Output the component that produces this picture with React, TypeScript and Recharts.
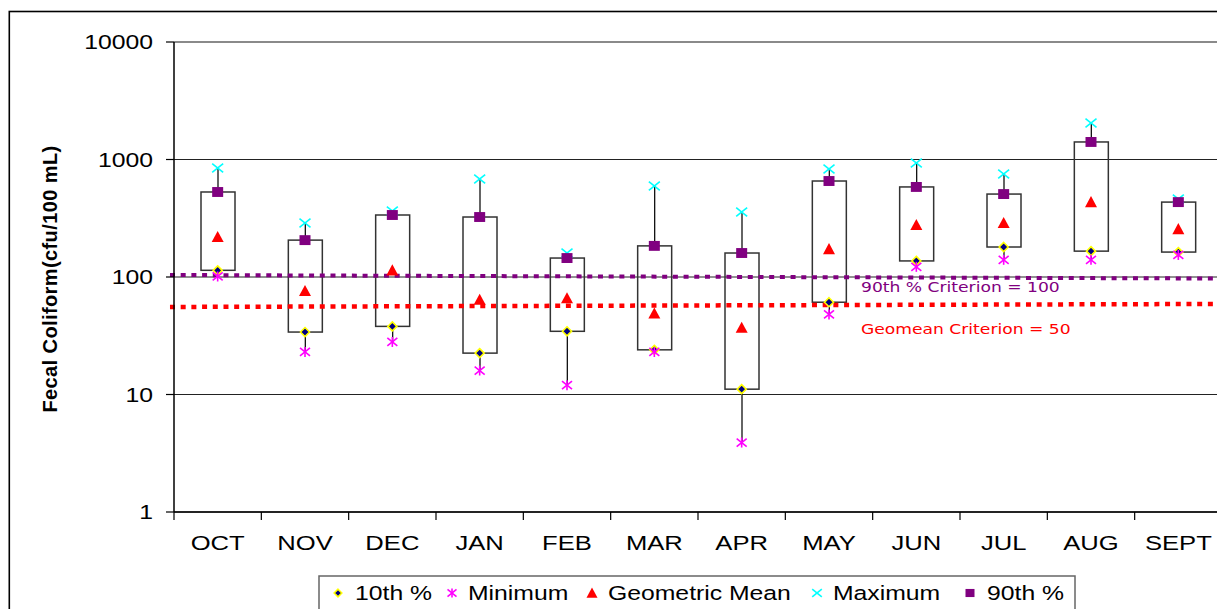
import React from 'react';
import { ComposedChart, Bar, Scatter, XAxis, YAxis, CartesianGrid, ReferenceLine } from 'recharts';

const months = ['OCT', 'NOV', 'DEC', 'JAN', 'FEB', 'MAR', 'APR', 'MAY', 'JUN', 'JUL', 'AUG', 'SEPT'];
const p10 = [114, 34, 38, 22.5, 34.5, 24, 11.1, 61, 137, 180, 166, 163];
const minimum = [101, 23, 28, 16, 12, 23, 3.9, 48, 122, 140, 140, 154];
const geoMean = [219, 76, 114, 64, 66, 49, 37, 173, 277, 288, 434, 256];
const maximum = [847, 288, 365, 682, 160, 595, 357, 830, 934, 753, 2042, 461];
const p90 = [529, 206, 337, 324, 145, 184, 160, 656, 584, 508, 1410, 434];

const yTicks = [1, 10, 100, 1000, 10000];
const criterion90 = { label: '90th % Criterion = 100', start: 104, end: 97 };
const criterionGeo = { label: 'Geomean Criterion = 50', start: 55.6, end: 59 };
const legendItems = ['10th %', 'Minimum', 'Geometric Mean', 'Maximum', '90th %'];

const data = months.map((m, i) => ({
  month: m,
  pos: i + 0.5,
  p10: p10[i],
  min: minimum[i],
  gm: geoMean[i],
  max: maximum[i],
  p90: p90[i],
}));
const boundaries = months.map((_, i) => i).concat([months.length]);

const PURPLE = '#800080';
const RED = '#FF0000';
const CYAN = '#00FFFF';
const MAGENTA = '#FF00FF';
const NAVY = '#000080';
const YELLOW = '#FFFF00';
const FONT = "'Liberation Sans', Arial, sans-serif";

const Diamond = ({ cx, cy, s = 4.5 }: any) => (
  <polygon
    points={`${cx},${cy - s} ${cx + s},${cy} ${cx},${cy + s} ${cx - s},${cy}`}
    fill={NAVY}
    stroke={YELLOW}
    strokeWidth={1.6}
  />
);
const Star = ({ cx, cy, s = 5 }: any) => (
  <g stroke={MAGENTA} strokeWidth={1.6}>
    <line x1={cx - s} y1={cy - s * 0.8} x2={cx + s} y2={cy + s * 0.8} />
    <line x1={cx - s} y1={cy + s * 0.8} x2={cx + s} y2={cy - s * 0.8} />
    <line x1={cx} y1={cy - s} x2={cx} y2={cy + s} />
  </g>
);
const Triangle = ({ cx, cy, s = 6 }: any) => (
  <polygon points={`${cx},${cy - s} ${cx + s},${cy + s * 0.85} ${cx - s},${cy + s * 0.85}`} fill={RED} />
);
const Cross = ({ cx, cy, s = 5.5 }: any) => (
  <g stroke={CYAN} strokeWidth={1.6}>
    <line x1={cx - s} y1={cy - s * 0.8} x2={cx + s} y2={cy + s * 0.8} />
    <line x1={cx - s} y1={cy + s * 0.8} x2={cx + s} y2={cy - s * 0.8} />
  </g>
);
const Square = ({ cx, cy, s = 5.5 }: any) => (
  <rect x={cx - s} y={cy - s * 0.9} width={s * 2} height={s * 1.8} fill={PURPLE} />
);

const BoxShape = (props: any) => {
  const { x, y, width, height, payload } = props;
  if (!payload) return null;
  const hi = Math.log10(payload.max);
  const lo = Math.log10(payload.min);
  const toY = (v: number) => y + (height * (hi - Math.log10(v))) / (hi - lo);
  const cx = x + width / 2;
  const y90 = toY(payload.p90);
  const y10 = toY(payload.p10);
  return (
    <g>
      <line x1={cx} x2={cx} y1={y} y2={y90} stroke="#111" strokeWidth={1.3} />
      <line x1={cx} x2={cx} y1={y10} y2={y + height} stroke="#111" strokeWidth={1.3} />
      <rect x={x} y={y90} width={width} height={y10 - y90} fill="none" stroke="#333" strokeWidth={1.5} />
    </g>
  );
};

const YTick = (props: any) => {
  const { x, y, payload } = props;
  return (
    <text
      transform={`translate(${x},${y + 7}) scale(1.27,1)`}
      textAnchor="end"
      fontFamily={FONT}
      fontSize={19.5}
      fill="#000"
    >
      {payload.value}
    </text>
  );
};

const XTick = (props: any) => {
  const { x, y, payload, index } = props;
  const half = payload && payload.offset ? payload.offset : 0;
  return (
    <g>
      {half > 0 && (
        <line x1={x - half} x2={x - half} y1={y} y2={y + 8} stroke="#000" strokeWidth={1.2} />
      )}
      {half > 0 && index === months.length - 1 && (
        <line x1={x + half} x2={x + half} y1={y} y2={y + 8} stroke="#000" strokeWidth={1.2} />
      )}
      <text
        transform={`translate(${x},${y + 38}) scale(1.22,1)`}
        textAnchor="middle"
        fontFamily={FONT}
        fontSize={21}
        fill="#000"
      >
        {payload.value}
      </text>
    </g>
  );
};

const legendX = [330, 444, 584, 809, 962];
const legendTextX = [347, 460, 600, 825, 979];
const legendMarkers = [
  (cx: number, cy: number) => <Diamond cx={cx} cy={cy} s={3.8} />,
  (cx: number, cy: number) => <Star cx={cx} cy={cy} s={4.5} />,
  (cx: number, cy: number) => <Triangle cx={cx} cy={cy} s={5.5} />,
  (cx: number, cy: number) => <Cross cx={cx} cy={cy} s={4.8} />,
  (cx: number, cy: number) => <Square cx={cx} cy={cy} s={4.5} />,
];

export default function App() {
  return (
    <div style={{ position: 'relative', width: 1217, height: 601, overflow: 'hidden', background: '#fff' }}>
      <ComposedChart
        width={1217}
        height={601}
        data={data}
        margin={{ top: 34, right: 3, bottom: 37, left: 0 }}
      >
        <CartesianGrid vertical={false} stroke="#222" strokeWidth={1} />
        <XAxis
          xAxisId="num"
          dataKey="pos"
          type="number"
          scale="linear"
          domain={[0, months.length]}
          hide
          allowDataOverflow
        />
        <XAxis
          dataKey="month"
          height={60}
          tickLine={false}
          tickSize={0}
          tickMargin={0}
          axisLine={{ stroke: '#000', strokeWidth: 1.5 }}
          tick={<XTick />}
          interval={0}
        />
        <YAxis
          scale="log"
          domain={[1, 10000]}
          ticks={yTicks}
          allowDataOverflow
          width={166}
          tickSize={8}
          tickMargin={13}
          axisLine={{ stroke: '#000', strokeWidth: 1.5 }}
          tickLine={{ stroke: '#000', strokeWidth: 1.2 }}
          tick={<YTick />}
          interval={0}
        />
        <ReferenceLine y={10000} stroke="#888" strokeWidth={1.6} ifOverflow="visible" />
        <ReferenceLine x={months.length} xAxisId="num" stroke="#888" strokeWidth={1.6} ifOverflow="visible" />
        <Bar
          dataKey={(d: any) => [d.min, d.max]}
          barSize={34}
          shape={<BoxShape />}
          isAnimationActive={false}
        />
        <ReferenceLine
          xAxisId="num"
          segment={[{ x: -0.046, y: criterion90.start }, { x: 12.04, y: criterion90.end }]}
          stroke={PURPLE}
          strokeWidth={4}
          strokeDasharray="5 5.7"
          ifOverflow="visible"
        />
        <ReferenceLine
          xAxisId="num"
          segment={[{ x: -0.046, y: criterionGeo.start }, { x: 12.04, y: criterionGeo.end }]}
          stroke={RED}
          strokeWidth={4.5}
          strokeDasharray="5 5.7"
          ifOverflow="visible"
        />
        <Scatter dataKey="p10" shape={(p: any) => <Diamond cx={p.cx} cy={p.cy} />} isAnimationActive={false} />
        <Scatter dataKey="min" shape={(p: any) => <Star cx={p.cx} cy={p.cy} />} isAnimationActive={false} />
        <Scatter dataKey="gm" shape={(p: any) => <Triangle cx={p.cx} cy={p.cy} />} isAnimationActive={false} />
        <Scatter dataKey="max" shape={(p: any) => <Cross cx={p.cx} cy={p.cy} />} isAnimationActive={false} />
        <Scatter dataKey="p90" shape={(p: any) => <Square cx={p.cx} cy={p.cy} />} isAnimationActive={false} />
      </ComposedChart>
      <svg
        width={1217}
        height={601}
        style={{ position: 'absolute', left: 0, top: 0, pointerEvents: 'none' }}
      >
        <rect x={1.3} y={3.5} width={1400} height={800} fill="none" stroke="#000" strokeWidth={1.6} />
        <text
          transform="translate(49,271) rotate(-90)"
          textAnchor="middle"
          fontFamily={FONT}
          fontWeight="bold"
          fontSize={20}
          letterSpacing={0.4}
          fill="#000"
        >
          Fecal Coliform(cfu/100 mL)
        </text>
        <text
          transform="translate(853,284) scale(1.27,1)"
          fontFamily="'DejaVu Sans', Verdana, sans-serif"
          fontSize={13.5}
          fill={PURPLE}
        >
          {criterion90.label}
        </text>
        <text
          transform="translate(853,326) scale(1.27,1)"
          fontFamily="'DejaVu Sans', Verdana, sans-serif"
          fontSize={13.5}
          fill={RED}
        >
          {criterionGeo.label}
        </text>
        <rect x={311} y={568} width={756} height={60} fill="#fff" stroke="#666" strokeWidth={1.5} />
        {legendItems.map((label, i) => (
          <g key={label}>
            {legendMarkers[i](legendX[i], 585)}
            <text
              transform={`translate(${legendTextX[i]},592) scale(1.27,1)`}
              fontFamily={FONT}
              fontSize={19.5}
              fill="#000"
            >
              {label}
            </text>
          </g>
        ))}
      </svg>
    </div>
  );
}
